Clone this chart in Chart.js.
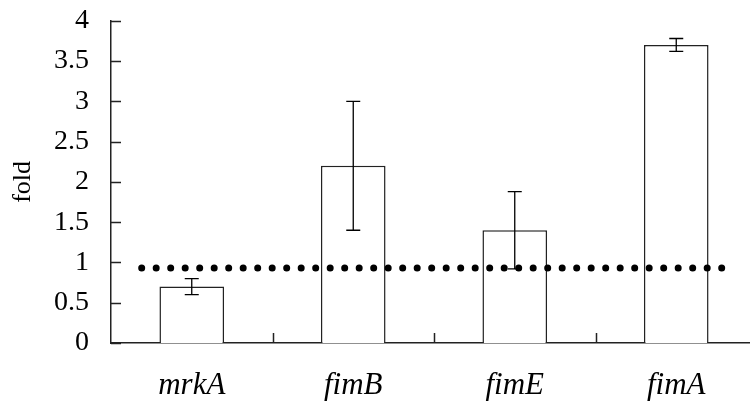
<!DOCTYPE html>
<html>
<head>
<meta charset="utf-8">
<script src="https://cdn.jsdelivr.net/npm/chart.js@4"></script>
<style>
  html, body { margin: 0; padding: 0; background: #fff; overflow: hidden; }
  #wrap { width: 757px; height: 411px; overflow: hidden; }
  #foldChart { display: block; margin-top: -18px; }
</style>
</head>
<body>
<div id="wrap"><canvas id="foldChart" width="757" height="429"></canvas></div>
<script>
const genes = ["mrkA", "fimB", "fimE", "fimA"];
const foldValues = [0.7, 2.2, 1.4, 3.7];
const foldErrors = [0.1, 0.8, 0.48, 0.08];
const yTicks = [0, 0.5, 1, 1.5, 2, 2.5, 3, 3.5, 4];
// dotted reference line: level and its span along the category axis
const refLevel = 0.93;
const refSpan = [0.19, 3.83];

const serif = "'Liberation Serif', 'Times New Roman', Times, serif";

const errorBars = {
    id: "errorBars",
    afterDatasetsDraw(chart) {
        const ctx = chart.ctx;
        const meta = chart.getDatasetMeta(0);
        const y = chart.scales.y;
        ctx.save();
        ctx.strokeStyle = "#000";
        ctx.lineWidth = 1.3;
        meta.data.forEach((bar, i) => {
            const top = y.getPixelForValue(foldValues[i] + foldErrors[i]);
            const bot = y.getPixelForValue(foldValues[i] - foldErrors[i]);
            ctx.beginPath();
            ctx.moveTo(bar.x, top); ctx.lineTo(bar.x, bot);
            ctx.moveTo(bar.x - 7, top); ctx.lineTo(bar.x + 7, top);
            ctx.moveTo(bar.x - 7, bot); ctx.lineTo(bar.x + 7, bot);
            ctx.stroke();
        });
        ctx.restore();
    }
};

// tick marks pointing into the plot area
const innerTicks = {
    id: "innerTicks",
    afterDraw(chart) {
        const ctx = chart.ctx;
        const x = chart.scales.x, y = chart.scales.y;
        const area = chart.chartArea;
        ctx.save();
        ctx.strokeStyle = "#222";
        ctx.lineWidth = 1.5;
        ctx.beginPath();
        yTicks.forEach(v => {
            const py = Math.round(y.getPixelForValue(v)) + 0.5;
            ctx.moveTo(area.left, py); ctx.lineTo(area.left + 10, py);
        });
        for (let i = 1; i < genes.length; i++) {
            const px = Math.round((x.getPixelForValue(i - 1) + x.getPixelForValue(i)) / 2) + 0.5;
            ctx.moveTo(px, area.bottom); ctx.lineTo(px, area.bottom - 10);
        }
        ctx.stroke();
        ctx.restore();
    }
};

new Chart(document.getElementById("foldChart").getContext("2d"), {
    data: {
        labels: genes,
        datasets: [
            {
                type: "bar",
                data: foldValues,
                backgroundColor: "#fff",
                borderColor: "#222",
                borderWidth: 1.5,
                grouped: false,
                categoryPercentage: 1,
                barPercentage: 0.4,
                order: 1
            },
            {
                type: "line",
                xAxisID: "x2",
                data: [{ x: refSpan[0], y: refLevel }, { x: refSpan[1], y: refLevel }],
                borderColor: "#000",
                borderWidth: 7,
                borderDash: [0, 14.5],
                borderCapStyle: "round",
                pointRadius: 0,
                fill: false,
                order: 0
            }
        ]
    },
    options: {
        responsive: false,
        animation: false,
        layout: { autoPadding: false, padding: { top: 20, right: 0, bottom: 0, left: 0 } },
        plugins: { legend: { display: false }, tooltip: { enabled: false } },
        scales: {
            x: {
                type: "category",
                offset: true,
                afterFit: s => { s.height = 68; },
                grid: { display: false, drawTicks: false },
                border: { display: true, color: "#222", width: 1.5 },
                ticks: {
                    color: "#000",
                    padding: 24,
                    font: { family: serif, size: 31, style: "italic" }
                }
            },
            x2: {
                type: "linear",
                min: 0,
                max: genes.length,
                display: false
            },
            y: {
                min: 0,
                max: 4,
                afterFit: s => { s.width = 111; },
                afterBuildTicks: axis => { axis.ticks = yTicks.map(v => ({ value: v })); },
                grid: { display: false, drawTicks: false },
                border: { display: true, color: "#222", width: 1.5 },
                title: {
                    display: true,
                    text: "fold",
                    color: "#000",
                    padding: { top: 8, bottom: 0 },
                    font: { family: serif, size: 26 }
                },
                ticks: {
                    color: "#000",
                    padding: 22,
                    callback: v => String(v),
                    font: { family: serif, size: 28 }
                }
            }
        }
    },
    plugins: [errorBars, innerTicks]
});
</script>
</body>
</html>
